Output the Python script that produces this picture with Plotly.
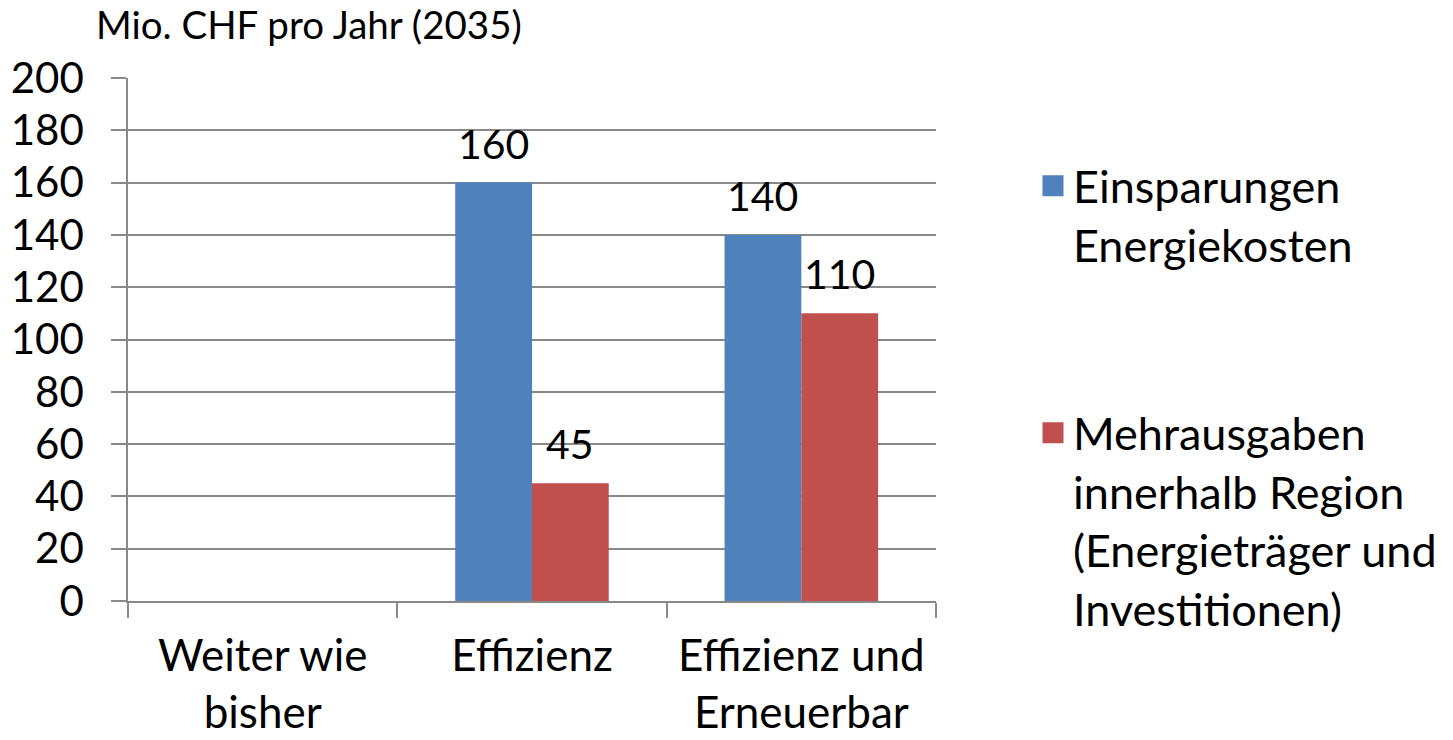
import plotly.graph_objects as go

categories = ["Weiter wie<br>bisher", "Effizienz", "Effizienz und<br>Erneuerbar"]
series_names = ["Einsparungen<br>Energiekosten",
                "Mehrausgaben<br>innerhalb Region<br>(Energieträger und<br>Investitionen)"]
einsparungen = [None, 160, 140]
mehrausgaben = [None, 45, 110]
colors = ["#4F81BD", "#C0504D"]
y_ticks = list(range(0, 201, 20))

FONT = "Lato, Carlito, sans-serif"
GRID = "#898989"
BARGAP = 0.43

fig = go.Figure()
for vals, col in zip([einsparungen, mehrausgaben], colors):
    fig.add_trace(go.Bar(x=categories, y=vals, marker=dict(color=col, line=dict(width=0)),
                         showlegend=False, hoverinfo="y"))

# legend entries (large square symbols)
for i, (name, col) in enumerate(zip(series_names, colors)):
    fig.add_trace(go.Scatter(x=[None], y=[None], mode="markers", name=name,
                             legendgroup=f"g{i}",
                             marker=dict(symbol="square", size=16, color=col,
                                         line=dict(color=col, width=5))))

# data labels
bar_w = (1 - BARGAP) / 2
offsets = [-bar_w / 2, bar_w / 2]
for vals, off in zip([einsparungen, mehrausgaben], offsets):
    for i, v in enumerate(vals):
        if v is None:
            continue
        fig.add_annotation(x=i + off, y=v, text=str(v), showarrow=False,
                           yanchor="bottom", yshift=13,
                           font=dict(family=FONT, size=41, color="black"))

fig.update_layout(
    width=1453, height=740,
    margin=dict(l=128, r=517, t=78, b=139, autoexpand=False),
    paper_bgcolor="white", plot_bgcolor="white",
    barmode="group", bargap=BARGAP, bargroupgap=0,
    font=dict(family=FONT, size=42, color="black"),
    title=dict(text="Mio. CHF pro Jahr (2035)", font=dict(family=FONT, size=38.5, color="black"),
               xref="container", yref="container", x=96 / 1453, xanchor="left",
               y=1 - 26 / 740, yanchor="middle"),
    legend=dict(xref="container", yref="container", x=1033 / 1453, xanchor="left",
                y=1 - 150 / 740, yanchor="top", valign="top", tracegroupgap=127,
                maxheight=740,
                font=dict(family=FONT, size=45, color="black"),
                bgcolor="rgba(0,0,0,0)", itemclick=False),
    xaxis=dict(type="category", range=[-0.5, 2.5], automargin=False,
               showline=True, linecolor=GRID, linewidth=1.5,
               ticks="outside", ticklen=15, tickcolor=GRID, tickwidth=1.5,
               tickson="boundaries", showgrid=False, zeroline=False,
               ticklabelstandoff=15, tickfont=dict(family=FONT, size=44)),
    yaxis=dict(range=[0, 200], tickvals=y_ticks, showgrid=True, gridcolor=GRID, gridwidth=1.5,
               showline=True, linecolor=GRID, linewidth=1.5, zeroline=False, automargin=False,
               ticks="outside", ticklen=15, tickcolor=GRID, tickwidth=1.5,
               ticklabelstandoff=19, tickfont=dict(family=FONT, size=42)),
)

fig.write_html("out.html", config={"displayModeBar": False},
               post_script="document.body.style.margin='0px';")
